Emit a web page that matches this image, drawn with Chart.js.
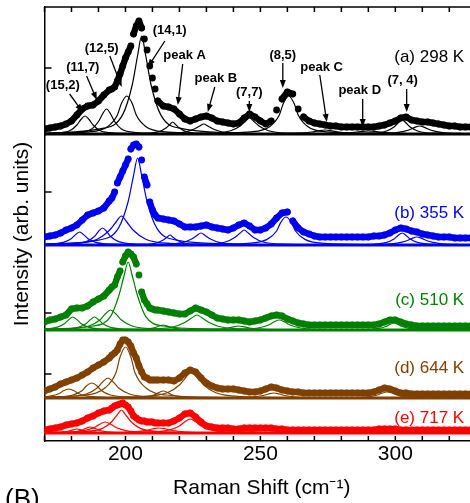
<!DOCTYPE html>
<html lang="en">
<head>
<meta charset="UTF-8">
<title>Raman spectra</title>
<script src="https://cdn.jsdelivr.net/npm/chart.js@4.4.0/dist/chart.umd.min.js"></script>
<style>
  html, body { margin: 0; padding: 0; background: #fff; overflow: hidden; }
  .wrap { width: 485px; height: 503px; }
</style>
</head>
<body>
<div class="wrap"><canvas id="raman" width="485" height="503"></canvas></div>
<script>
// Raman shift grid (cm-1) shared by the measured spectra, finer across the main band
const shift = [
  170,172,174,176,178,180,182,184,186,188,190,192,
  194,195,196,197,198,199,200,201,202,203,204,205,206,207,208,209,210,211,212,
  214,216,218,220,222,224,226,228,
  230,232,234,236,238,240,242,244,246,248,
  250,252,254,256,258,260,262,264,266,268,
  270,272,274,276,278,280,282,284,286,288,
  290,292,294,296,298,300,302,304,306,308,
  310,312,314,316,318,320,322,324,326,328
];

// measured intensity (arb. units), one list per temperature
const ramanA = [ // 298 K
  5,6,7,8,10,13,19,25,28,29,33,39,
  44,45,47,53,60,68,76,82,88,100,108,113,106,95,84,68,56,45,33,
  28,27,25,20,15,13,15,17,
  18,16,13,12,11,10,11,16,20,17,
  13,10,13,24,35,42,40,25,17,13,
  11,10,9,8,8,7,7,7,7,7,
  7,7,8,9,11,13,16,17,14,13,
  12,12,11,10,9,8,8,7,7,7
];
const ramanB = [ // 355 K
  8,9,10,12,15,17,20,25,30,32,34,37,
  44,47,53,62,68,74,80,86,96,100,101,98,85,68,60,43,35,30,27,
  26,25,24,21,18,18,18,19,
  20,18,17,16,15,17,20,22,19,15,
  15,17,21,27,32,33,24,17,13,11,
  9,8,8,8,8,8,8,8,8,8,
  8,9,9,10,12,15,17,16,14,13,
  11,10,9,8,8,8,7,7,7,7
];
const ramanC = [ // 510 K
  8,10,11,13,15,21,22,22,24,28,31,34,
  40,43,45,53,59,68,74,78,76,73,66,55,38,30,26,22,21,20,20,
  19,18,17,16,16,19,22,20,
  18,15,12,11,10,10,10,9,8,9,
  10,12,14,15,14,11,9,7,6,5,
  5,5,5,5,5,5,5,5,5,5,
  5,5,6,8,10,10,8,6,5,4,
  4,4,4,4,4,4,4,4,4,4
];
const ramanD = [ // 644 K
  7,9,11,14,16,18,20,23,26,30,33,36,
  40,43,45,48,54,58,58,56,52,45,40,32,26,21,20,18,18,18,18,
  18,18,17,20,25,28,26,20,
  15,12,10,9,9,9,8,7,6,6,
  7,9,11,10,8,7,6,6,5,5,
  5,5,5,5,5,5,5,5,5,5,
  5,6,8,10,9,7,5,5,4,4,
  4,4,4,4,4,4,4,4,4,4
];
const ramanE = [ // 717 K
  3,4,5,6,8,9,10,12,15,17,20,22,
  23,25,27,28,29,30,28,26,22,17,15,13,12,12,11,11,11,10,10,
  10,10,12,15,19,20,16,11,
  7,6,5,5,5,4,4,5,5,5,
  5,5,5,4,4,3,3,3,3,3,
  3,3,3,3,3,3,3,3,3,3,
  3,3,4,4,4,4,3,3,3,3,
  3,3,3,3,3,3,3,3,3,3
];

// fitted peak components, [shift, intensity] pairs
const fitA = [
  [[157,0.2],[174,1],[179.5,3.5],[182,9],[183.5,14.5],[185,18],[186.5,14.5],[188,9],[190.5,3.5],[196,1],[213,0.2]],
  [[165,0.3],[182,1.5],[187.5,5],[190,12.5],[191.5,20],[193,25],[194.5,20],[196,12.5],[198.5,5],[204,1.5],[221,0.3]],
  [[165.5,0.4],[186.5,2.2],[193.5,7.6],[197,19],[198.5,30.5],[200.5,38],[202.5,30.5],[204,19],[207.5,7.6],[214.5,2.2],[235.5,0.4]],
  [[171,1],[192,5.8],[199,19.6],[202.5,49],[204.5,78.5],[206,98],[207.5,78.5],[209.5,49],[213,19.6],[220,5.8],[241,1]],
  [[192.5,0.1],[207.5,0.7],[212.5,2.4],[215,6],[216.5,9.6],[217.5,12],[218.5,9.6],[220,6],[222.5,2.4],[227.5,0.7],[242.5,0.1]],
  [[194,0.1],[215,0.6],[222,2],[225.5,5],[227.5,8],[229,10],[230.5,8],[232.5,5],[236,2],[243,0.6],[264,0.1]],
  [[211,0.2],[232,0.9],[239,3.2],[242.5,8],[244.5,12.8],[246,16],[247.5,12.8],[249.5,8],[253,3.2],[260,0.9],[281,0.2]],
  [[225.5,0.4],[246.5,2.2],[253.5,7.6],[257,19],[258.5,30.5],[260.5,38],[262.5,30.5],[264,19],[267.5,7.6],[274.5,2.2],[295.5,0.4]],
  [[224,0],[254,0.2],[264,0.8],[269,2],[271.5,3.2],[274,4],[276.5,3.2],[279,2],[284,0.8],[294,0.2],[324,0]],
  [[230,0],[266,0.2],[278,0.6],[284,1.5],[287,2.4],[290,3],[293,2.4],[296,1.5],[302,0.6],[314,0.2],[350,0]],
  [[272.5,0.1],[290.5,0.8],[296.5,2.8],[299.5,7],[301,11],[302.5,14],[304,11],[305.5,7],[308.5,2.8],[314.5,0.8],[332.5,0.1]],
  [[269,0.1],[293,0.5],[301,1.6],[305,4],[307,6.4],[309,8],[311,6.4],[313,4],[317,1.6],[325,0.5],[349,0.1]]
];
const fitB = [
  [[153,0.1],[171,0.8],[177,2.6],[180,6.5],[181.5,10.4],[183,13],[184.5,10.4],[186,6.5],[189,2.6],[195,0.8],[213,0.1]],
  [[161.5,0.2],[179.5,1],[185.5,3.4],[188.5,8.5],[190,13.6],[191.5,17],[193,13.6],[194.5,8.5],[197.5,3.4],[203.5,1],[221.5,0.2]],
  [[153.5,0.3],[180.5,1.7],[189.5,5.8],[194,14.5],[196.5,23],[198.5,29],[200.5,23],[203,14.5],[207.5,5.8],[216.5,1.7],[243.5,0.3]],
  [[169.5,0.9],[190.5,5.1],[197.5,17.4],[201,43.5],[203,69.5],[204.5,87],[206,69.5],[208,43.5],[211.5,17.4],[218.5,5.1],[239.5,0.9]],
  [[191.5,0.1],[206.5,0.6],[211.5,2],[214,5],[215.5,8],[216.5,10],[217.5,8],[219,5],[221.5,2],[226.5,0.6],[241.5,0.1]],
  [[193,0.1],[214,0.7],[221,2.4],[224.5,6],[226.5,9.6],[228,12],[229.5,9.6],[231.5,6],[235,2.4],[242,0.7],[263,0.1]],
  [[209,0.2],[230,0.9],[237,3],[240.5,7.5],[242.5,12],[244,15],[245.5,12],[247.5,7.5],[251,3],[258,0.9],[279,0.2]],
  [[224.5,0.3],[245.5,1.7],[252.5,5.6],[256,14],[257.5,22.4],[259.5,28],[261.5,22.4],[263,14],[266.5,5.6],[273.5,1.7],[294.5,0.3]],
  [[272.5,0.1],[290.5,0.7],[296.5,2.4],[299.5,6],[301,9.6],[302.5,12],[304,9.6],[305.5,6],[308.5,2.4],[314.5,0.7],[332.5,0.1]],
  [[268,0.1],[292,0.5],[300,1.6],[304,4],[306,6.4],[308,8],[310,6.4],[312,4],[316,1.6],[324,0.5],[348,0.1]]
];
const fitC = [
  [[150.5,0.1],[168.5,0.8],[174.5,2.6],[177.5,6.5],[179,10.4],[180.5,13],[182,10.4],[183.5,6.5],[186.5,2.6],[192.5,0.8],[210.5,0.1]],
  [[158.5,0.1],[176.5,0.8],[182.5,2.6],[185.5,6.5],[187,10.4],[188.5,13],[190,10.4],[191.5,6.5],[194.5,2.6],[200.5,0.8],[218.5,0.1]],
  [[154.5,0.2],[178.5,1.2],[186.5,4],[190.5,10],[192.5,16],[194.5,20],[196.5,16],[198.5,10],[202.5,4],[210.5,1.2],[234.5,0.2]],
  [[168,0.7],[188,4],[194.5,13.6],[197.5,34],[199.5,54.5],[201,68],[202.5,54.5],[204.5,34],[207.5,13.6],[214,4],[234,0.7]],
  [[184,0],[202,0.3],[208,1],[211,2.5],[212.5,4],[214,5],[215.5,4],[217,2.5],[220,1],[226,0.3],[244,0]],
  [[181.5,0.2],[208.5,0.9],[217.5,3],[222,7.5],[224.5,12],[226.5,15],[228.5,12],[231,7.5],[235.5,3],[244.5,0.9],[271.5,0.2]],
  [[202,0],[226,0.2],[234,0.8],[238,2],[240,3.2],[242,4],[244,3.2],[246,2],[250,0.8],[258,0.2],[282,0]],
  [[217,0.1],[241,0.6],[249,2],[253,5],[255,8],[257,10],[259,8],[261,5],[265,2],[273,0.6],[297,0.1]],
  [[269.5,0.1],[287.5,0.4],[293.5,1.4],[296.5,3.5],[298,5.6],[299.5,7],[301,5.6],[302.5,3.5],[305.5,1.4],[311.5,0.4],[329.5,0.1]]
];
const fitD = [
  [[144,0.1],[165,0.5],[172,1.8],[175.5,4.5],[177,7.2],[179,9],[181,7.2],[182.5,4.5],[186,1.8],[193,0.5],[214,0.1]],
  [[152.5,0.2],[173.5,0.9],[180.5,3],[184,7.5],[185.5,12],[187.5,15],[189.5,12],[191,7.5],[194.5,3],[201.5,0.9],[222.5,0.2]],
  [[153.5,0.2],[177.5,1.2],[185.5,4],[189.5,10],[191.5,16],[193.5,20],[195.5,16],[197.5,10],[201.5,4],[209.5,1.2],[233.5,0.2]],
  [[163,0.5],[185,3],[192.5,10.2],[196.5,25.5],[198,41],[200,51],[202,41],[203.5,25.5],[207.5,10.2],[215,3],[237,0.5]],
  [[184,0.1],[202,0.4],[208,1.4],[211,3.5],[212.5,5.6],[214,7],[215.5,5.6],[217,3.5],[220,1.4],[226,0.4],[244,0.1]],
  [[179.5,0.3],[206.5,1.5],[215.5,5.2],[220,13],[222.5,21],[224.5,26],[226.5,21],[229,13],[233.5,5.2],[242.5,1.5],[269.5,0.3]],
  [[215,0],[239,0.3],[247,1],[251,2.5],[253,4],[255,5],[257,4],[259,2.5],[263,1],[271,0.3],[295,0]],
  [[262,0.1],[283,0.4],[290,1.2],[293.5,3],[295,4.8],[297,6],[299,4.8],[300.5,3],[304,1.2],[311,0.4],[332,0.1]]
];
const fitE = [
  [[152,0],[170,0.2],[176,0.8],[179,2],[180.5,3.2],[182,4],[183.5,3.2],[185,2],[188,0.8],[194,0.2],[212,0]],
  [[157,0.1],[175,0.4],[181,1.2],[184,3],[185.5,4.8],[187,6],[188.5,4.8],[190,3],[193,1.2],[199,0.4],[217,0.1]],
  [[152.5,0.1],[176.5,0.6],[184.5,2.2],[188.5,5.5],[190.5,8.8],[192.5,11],[194.5,8.8],[196.5,5.5],[200.5,2.2],[208.5,0.6],[232.5,0.1]],
  [[163.5,0.2],[184.5,1.4],[191.5,4.6],[195,11.5],[197,18.4],[198.5,23],[200,18.4],[202,11.5],[205.5,4.6],[212.5,1.4],[233.5,0.2]],
  [[162.5,0],[192.5,0.3],[202.5,1],[207.5,2.5],[210,4],[212.5,5],[215,4],[217.5,2.5],[222.5,1],[232.5,0.3],[262.5,0]],
  [[184,0.1],[208,0.8],[216,2.8],[220,7],[222,11.2],[224,14],[226,11.2],[228,7],[232,2.8],[240,0.8],[264,0.1]],
  [[202,0],[232,0.2],[242,0.6],[247,1.5],[249.5,2.4],[252,3],[254.5,2.4],[257,1.5],[262,0.6],[272,0.2],[302,0]],
  [[257,0],[281,0.2],[289,0.6],[293,1.5],[295,2.4],[297,3],[299,2.4],[301,1.5],[305,0.6],[313,0.2],[337,0]]
];

const panelLabels = ['(a) 298 K', '(b) 355 K', '(c) 510 K', '(d) 644 K', '(e) 717 K'];
const panelMin = [-1, 0, 0, 0, -8];
const panelMax = [127, 110, 85, 68, 35];
const panelTick = [66, 53, 17, 24, null];
const labelY = [77, 32, 30, 30, 15];
const labelShift = 325.5;

// mode assignments marked in the 298 K spectrum
const peakNames = ['(15,2)', '(11,7)', '(12,5)', '(14,1)', 'peak A', 'peak B', '(7,7)', '(8,5)', 'peak C', 'peak D', '(7, 4)'];
const nameAt = [[176.8,49],[184.2,67],[191.2,86],[216.4,104],[221.9,79],[233.5,56],[245.9,42],[258.3,79],[272.7,67],[286.8,44],[302.7,54]];
const arrowFrom = [[179.3,40],[185.6,58],[194.2,78],[214.6,93],[221.2,70],[233.1,47],[245.9,33],[258.3,71],[272,59],[287.9,35],[304.2,45]];
const arrowTo = [[184.1,22],[189.4,34],[198.6,47],[208.3,67],[219.4,29],[230.5,22],[245.9,22],[258.3,46],[274.6,12],[287.9,7],[304.2,22]];

const panelIds = ['ya', 'yb', 'yc', 'yd', 'ye'];
const panelColors = ['#000000', '#0000f0', '#008000', '#804000', '#ff0000'];
const spectra = [ramanA, ramanB, ramanC, ramanD, ramanE];
const fits = [fitA, fitB, fitC, fitD, fitE];

Chart.defaults.font.family = "'Liberation Sans', Arial, sans-serif";
Chart.defaults.color = '#000';

const datasets = [];
panelIds.forEach((id, i) => {
    const color = panelColors[i];
    // measured points: a fat band where dots overlap, loose dots on steep flanks
    datasets.push({
        data: shift.map((s, k) => ({x: s, y: spectra[i][k]})),
        yAxisID: id,
        showLine: true,
        borderWidth: 6.4,
        borderColor: color,
        borderCapStyle: 'round',
        borderJoinStyle: 'round',
        segment: {
            borderColor: c => (Math.hypot(c.p1.x - c.p0.x, c.p1.y - c.p0.y) > 9 ? 'rgba(0,0,0,0)' : color)
        },
        pointRadius: 3.4,
        pointBackgroundColor: color,
        pointBorderWidth: 0,
        order: 0
    });
    fits[i].forEach(f => {
        datasets.push({
            data: f.map(p => ({x: p[0], y: p[1]})),
            yAxisID: id,
            showLine: true,
            pointRadius: 0,
            borderColor: color,
            borderWidth: 1.2,
            cubicInterpolationMode: 'monotone',
            order: 1
        });
    });
});

const scales = {
    x: {
        type: 'linear', position: 'bottom', min: 170, max: 331,
        grid: {display: false, drawTicks: false},
        border: {display: true, color: '#000', width: 1.5},
        ticks: {
            stepSize: 10, autoSkip: false, maxRotation: 0, padding: 1,
            font: {size: 21},
            callback: v => (v % 50 === 0 ? v : '')
        },
        title: {display: true, text: 'Raman Shift (cm\u207B\u00B9)', font: {size: 21}, padding: {top: 0, bottom: 2}},
        afterFit: s => { s.height = 62; }
    }
};
panelIds.forEach((id, i) => {
    scales[id] = {
        type: 'linear', position: 'left', stack: 'spectra',
        stackWeight: panelMax[i] - panelMin[i], weight: 5 - i,
        min: panelMin[i], max: panelMax[i],
        grid: {display: false},
        ticks: {display: false},
        border: {display: true, color: '#000', width: 1.5},
        afterFit: s => { s.width = 0; }
    };
});

function arrow(ctx, x1, y1, x2, y2) {
    const a = Math.atan2(y2 - y1, x2 - x1);
    ctx.beginPath();
    ctx.moveTo(x1, y1);
    ctx.lineTo(x2 - 5 * Math.cos(a), y2 - 5 * Math.sin(a));
    ctx.stroke();
    ctx.beginPath();
    ctx.moveTo(x2, y2);
    ctx.lineTo(x2 - 8 * Math.cos(a) + 3 * Math.sin(a), y2 - 8 * Math.sin(a) - 3 * Math.cos(a));
    ctx.lineTo(x2 - 8 * Math.cos(a) - 3 * Math.sin(a), y2 - 8 * Math.sin(a) + 3 * Math.cos(a));
    ctx.closePath();
    ctx.fill();
}

const frame = {
    id: 'frame',
    beforeDatasetsDraw(chart) {
        const ctx = chart.ctx, area = chart.chartArea;
        ctx.save();
        ctx.lineWidth = 3;
        panelIds.forEach((id, i) => {
            const y = chart.scales[id].getPixelForValue(0);
            ctx.strokeStyle = panelColors[i];
            ctx.beginPath();
            ctx.moveTo(area.left, y);
            ctx.lineTo(area.right, y);
            ctx.stroke();
        });
        ctx.restore();
    },
    afterDraw(chart) {
        const ctx = chart.ctx, area = chart.chartArea, x = chart.scales.x;
        ctx.save();
        ctx.strokeStyle = '#000';
        ctx.fillStyle = '#000';
        ctx.lineWidth = 1.5;
        // top border and inward ticks
        ctx.beginPath();
        ctx.moveTo(area.left, area.top);
        ctx.lineTo(area.right, area.top);
        x.ticks.forEach(t => {
            const px = x.getPixelForValue(t.value);
            ctx.moveTo(px, area.top);
            ctx.lineTo(px, area.top + 5);
            ctx.moveTo(px, area.bottom);
            ctx.lineTo(px, area.bottom - 5);
        });
        panelIds.forEach((id, i) => {
            if (panelTick[i] === null) return;
            const py = chart.scales[id].getPixelForValue(panelTick[i]);
            ctx.moveTo(area.left, py);
            ctx.lineTo(area.left + 7, py);
        });
        ctx.stroke();

        // panel labels
        ctx.font = "17px 'Liberation Sans', Arial, sans-serif";
        ctx.textAlign = 'right';
        ctx.textBaseline = 'middle';
        panelIds.forEach((id, i) => {
            ctx.fillStyle = panelColors[i];
            ctx.fillText(panelLabels[i], x.getPixelForValue(labelShift), chart.scales[id].getPixelForValue(labelY[i]));
        });

        // mode assignments with arrows
        const ya = chart.scales.ya;
        ctx.fillStyle = '#000';
        ctx.lineWidth = 1.3;
        ctx.font = "bold 13px 'Liberation Sans', Arial, sans-serif";
        ctx.textAlign = 'center';
        peakNames.forEach((name, i) => {
            ctx.fillText(name, x.getPixelForValue(nameAt[i][0]), ya.getPixelForValue(nameAt[i][1]));
            arrow(ctx,
                x.getPixelForValue(arrowFrom[i][0]), ya.getPixelForValue(arrowFrom[i][1]),
                x.getPixelForValue(arrowTo[i][0]), ya.getPixelForValue(arrowTo[i][1]));
        });

        // y title and panel letter
        ctx.font = "21px 'Liberation Sans', Arial, sans-serif";
        ctx.save();
        ctx.translate(22, (area.top + area.bottom) / 2 + 10);
        ctx.rotate(-Math.PI / 2);
        ctx.fillText('Intensity (arb. units)', 0, 0);
        ctx.restore();
        ctx.font = "26px 'Liberation Sans', Arial, sans-serif";
        ctx.textAlign = 'left';
        ctx.textBaseline = 'alphabetic';
        ctx.fillText('(B)', 5, 507);
        ctx.restore();
    }
};

new Chart(document.getElementById('raman'), {
    type: 'scatter',
    data: {datasets: datasets},
    options: {
        responsive: false,
        animation: false,
        devicePixelRatio: 1,
        events: [],
        layout: {padding: {left: 44.5, top: 7, right: 6, bottom: 0}},
        plugins: {legend: {display: false}, tooltip: {enabled: false}},
        scales: scales
    },
    plugins: [frame]
});
</script>
</body>
</html>
